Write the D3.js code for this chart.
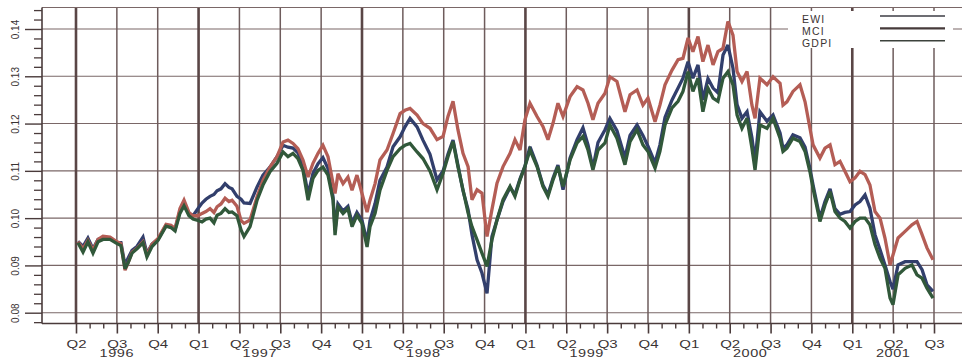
<!DOCTYPE html>
<html>
<head>
<meta charset="utf-8">
<script src="https://cdn.jsdelivr.net/npm/d3@7"></script>
<style>
  body { margin: 0; background: #ffffff; }
  svg { display: block; }
  text { font-family: "Liberation Sans", Arial, sans-serif; fill: #3a3333; }
</style>
</head>
<body>
<svg id="chart" width="964" height="359"></svg>
<script>
// Observation dates as decimal years (1996.25 = start of Q2 1996)
const dates = [
  1996.262,1996.293,1996.323,1996.354,1996.385,1996.415,1996.458,1996.501,1996.525,1996.550,
  1996.568,1996.593,1996.623,1996.660,1996.684,1996.715,1996.752,1996.801,1996.831,1996.856,
  1996.886,1996.911,1996.941,1996.966,1996.996,1997.021,1997.045,1997.070,1997.094,1997.113,
  1997.137,1997.162,1997.186,1997.205,1997.235,1997.260,1997.278,1997.315,1997.358,1997.394,
  1997.437,1997.480,1997.517,1997.547,1997.578,1997.608,1997.639,1997.670,1997.700,1997.731,
  1997.761,1997.792,1997.823,1997.835,1997.853,1997.884,1997.914,1997.939,1997.969,1998.000,
  1998.031,1998.049,1998.080,1998.110,1998.153,1998.190,1998.233,1998.263,1998.294,1998.337,
  1998.373,1998.416,1998.459,1998.496,1998.526,1998.557,1998.587,1998.618,1998.649,1998.673,
  1998.704,1998.734,1998.765,1998.795,1998.826,1998.863,1998.906,1998.936,1998.967,1998.997,
  1999.028,1999.071,1999.107,1999.138,1999.169,1999.199,1999.230,1999.273,1999.316,1999.352,
  1999.383,1999.413,1999.444,1999.487,1999.517,1999.560,1999.609,1999.640,1999.683,1999.719,
  1999.750,1999.793,1999.823,1999.854,1999.897,1999.934,1999.964,1999.995,2000.025,2000.056,
  2000.086,2000.117,2000.148,2000.178,2000.209,2000.239,2000.270,2000.295,2000.325,2000.356,
  2000.386,2000.405,2000.435,2000.478,2000.515,2000.558,2000.576,2000.600,2000.637,2000.680,
  2000.711,2000.741,2000.760,2000.802,2000.833,2000.864,2000.894,2000.925,2000.955,2000.986,
  2001.017,2001.047,2001.078,2001.108,2001.139,2001.170,2001.200,2001.231,2001.249,2001.280,
  2001.323,2001.365,2001.396,2001.427,2001.457,2001.494
];

const ewi = [
  .0951,.0940,.0958,.0935,.0955,.0958,.0957,.0948,.0948,.0900,
  .0915,.0932,.0940,.0960,.0925,.0945,.0955,.0985,.0982,.0976,
  .1015,.1030,.1010,.1005,.1020,.1032,.1040,.1046,.1050,.1058,
  .1062,.1073,.1065,.1062,.1046,.1040,.1032,.1031,.1066,.1091,
  .1108,.1130,.1154,.1150,.1148,.1138,.1110,.1050,.1095,.1115,
  .1128,.1105,.1045,.0975,.1030,.1015,.1025,.0990,.1012,.0995,
  .0950,.0995,.1031,.1080,.1108,.1151,.1172,.1193,.1211,.1193,
  .1165,.1135,.1081,.1100,.1135,.1165,.1112,.1058,.1018,.0965,
  .0912,.0884,.0841,.0961,.0996,.1035,.1065,.1050,.1083,.1110,
  .1151,.1112,.1070,.1050,.1085,.1112,.1060,.1127,.1166,.1191,
  .1155,.1106,.1160,.1187,.1211,.1185,.1128,.1175,.1197,.1175,
  .1152,.1117,.1155,.1213,.1250,.1275,.1296,.1331,.1296,.1324,
  .1250,.1295,.1275,.1265,.1345,.1366,.1317,.1240,.1211,.1225,
  .1170,.1120,.1225,.1205,.1218,.1180,.1148,.1155,.1176,.1170,
  .1150,.1105,.1070,.1000,.1035,.1062,.1020,.1008,.1012,.1014,
  .1028,.1035,.1049,.1021,.0965,.0933,.0901,.0866,.0850,.0901,
  .0908,.0908,.0908,.0891,.0859,.0845
];

const mci = [
  .0950,.0935,.0953,.0932,.0955,.0962,.0960,.0950,.0946,.0890,
  .0905,.0928,.0936,.0950,.0922,.0945,.0957,.0987,.0985,.0978,
  .1020,.1038,.1012,.1005,.1005,.1010,.1014,.1020,.1012,.1024,
  .1030,.1042,.1035,.1038,.1025,.0995,.0989,.0996,.1045,.1080,
  .1108,.1130,.1161,.1165,.1158,.1147,.1123,.1087,.1116,.1137,
  .1154,.1130,.1073,.1052,.1094,.1073,.1087,.1059,.1091,.1052,
  .1013,.1038,.1073,.1123,.1144,.1179,.1221,.1228,.1232,.1218,
  .1200,.1190,.1166,.1173,.1215,.1247,.1187,.1137,.1109,.1039,
  .1060,.1053,.0961,.1018,.1074,.1109,.1137,.1166,.1144,.1208,
  .1243,.1215,.1194,.1166,.1201,.1243,.1215,.1257,.1278,.1271,
  .1243,.1208,.1243,.1264,.1299,.1289,.1225,.1261,.1271,.1239,
  .1254,.1204,.1239,.1282,.1313,.1335,.1338,.1381,.1352,.1384,
  .1331,.1366,.1324,.1352,.1359,.1416,.1387,.1310,.1289,.1310,
  .1239,.1211,.1296,.1282,.1299,.1285,.1239,.1246,.1268,.1282,
  .1246,.1190,.1155,.1127,.1148,.1155,.1113,.1120,.1099,.1077,
  .1085,.1099,.1092,.1070,.1014,.1000,.0958,.0901,.0922,.0958,
  .0972,.0986,.0993,.0965,.0937,.0912
];

const gdpi = [
  .0948,.0928,.0950,.0926,.0950,.0955,.0955,.0946,.0942,.0893,
  .0905,.0926,.0935,.0948,.0918,.0940,.0953,.0983,.0980,.0973,
  .1010,.1026,.1005,.0998,.0995,.0992,.0998,.1000,.0990,.1006,
  .1010,.1020,.1012,.1013,.1005,.0975,.0961,.0982,.1038,.1070,
  .1098,.1116,.1140,.1130,.1137,.1126,.1101,.1038,.1084,.1101,
  .1108,.1091,.1038,.0964,.1024,.1010,.1020,.0982,.1006,.0989,
  .0939,.0982,.1010,.1059,.1101,.1130,.1147,.1154,.1158,.1140,
  .1126,.1100,.1060,.1095,.1130,.1162,.1109,.1060,.1011,.0982,
  .0954,.0926,.0898,.0954,.0996,.1039,.1067,.1046,.1081,.1109,
  .1144,.1109,.1067,.1046,.1081,.1109,.1067,.1123,.1159,.1173,
  .1144,.1102,.1144,.1159,.1197,.1169,.1113,.1162,.1187,.1155,
  .1141,.1106,.1141,.1197,.1233,.1247,.1268,.1310,.1268,.1296,
  .1225,.1275,.1254,.1247,.1296,.1310,.1282,.1218,.1190,.1211,
  .1148,.1102,.1197,.1190,.1211,.1169,.1141,.1148,.1169,.1162,
  .1141,.1098,.1063,.0993,.1028,.1056,.1014,.1000,.0993,.0979,
  .0993,.1000,.1000,.0986,.0944,.0915,.0894,.0831,.0817,.0880,
  .0894,.0901,.0880,.0873,.0852,.0831
];

const seriesNames = ["EWI", "MCI", "GDPI"];
const seriesColors = ["#323f6c", "#b45d55", "#31583a"];
const legendLineColors = ["#3c3c44", "#463a3a", "#3c423c"];

const yMajorTicks = [0.08, 0.09, 0.10, 0.11, 0.12, 0.13, 0.14];
const years = [1996, 1997, 1998, 1999, 2000, 2001];
const startQuarter = 1996.25, endQuarter = 2001.5;

const svg = d3.select("#chart");
const plot = { left: 42, right: 962, top: 7.5, bottom: 323.5 };

const x = d3.scaleLinear().domain([startQuarter, endQuarter]).range([76, 934]);
const y = d3.scaleLinear().domain([0.08, 0.14]).range([312.7, 29]);

const quarterTicks = d3.range(0, Math.round((endQuarter - startQuarter) * 4) + 1)
  .map(i => startQuarter + i * 0.25);
const monthTicks = d3.range(0, Math.round((endQuarter - startQuarter) * 12) + 1)
  .map(i => startQuarter + i / 12)
  .filter(t => Math.abs(t * 4 - Math.round(t * 4)) > 1e-6);
const yMinorTicks = d3.range(0, 34).map(i => 0.078 + i * 0.002)
  .filter(v => yMajorTicks.every(m => Math.abs(m - v) > 1e-6));

const gridColor = "#7a6767";
const axisColor = "#4a3b3b";

// horizontal grid
svg.append("g").selectAll("line").data(yMajorTicks).join("line")
  .attr("x1", plot.left).attr("x2", plot.right)
  .attr("y1", d => y(d)).attr("y2", d => y(d))
  .attr("stroke", gridColor).attr("stroke-width", 1.1);

// vertical grid at every quarter, heavier at the start of each year
const isQ1 = t => Math.abs(t - Math.round(t)) < 1e-6;
svg.append("g").selectAll("line").data(quarterTicks).join("line")
  .attr("x1", d => x(d)).attr("x2", d => x(d))
  .attr("y1", plot.top).attr("y2", plot.bottom)
  .attr("stroke", d => (isQ1(d) || d === startQuarter) ? "#5a4646" : "#6e5c5c")
  .attr("stroke-width", d => (isQ1(d) || d === startQuarter) ? 2.6 : 1.5);

// frame: top border, left and bottom axis lines
svg.append("line").attr("x1", plot.left).attr("x2", plot.right)
  .attr("y1", plot.top).attr("y2", plot.top)
  .attr("stroke", gridColor).attr("stroke-width", 1.2);
svg.append("line").attr("x1", plot.left).attr("x2", plot.left)
  .attr("y1", plot.top).attr("y2", plot.bottom)
  .attr("stroke", axisColor).attr("stroke-width", 1.6);
svg.append("line").attr("x1", plot.left).attr("x2", plot.right)
  .attr("y1", plot.bottom).attr("y2", plot.bottom)
  .attr("stroke", axisColor).attr("stroke-width", 1.6);

// y axis: major ticks with rotated labels, minor ticks
const yAxisG = svg.append("g").attr("transform", `translate(${plot.left},0)`)
  .call(d3.axisLeft(y).tickValues(yMajorTicks).tickSize(17).tickFormat(d3.format(".2f")))
  .call(g => g.select(".domain").remove());
yAxisG.selectAll(".tick line").attr("stroke", axisColor).attr("stroke-width", 1.4);
yAxisG.selectAll(".tick text")
  .attr("x", 0).attr("y", 0).attr("dy", null)
  .attr("text-anchor", "middle")
  .attr("transform", "translate(-23.5,0) rotate(-90)")
  .style("font-size", "10px").style("fill", "#3a3333");

svg.append("g").attr("transform", `translate(${plot.left},0)`)
  .call(d3.axisLeft(y).tickValues(yMinorTicks).tickSize(8).tickFormat(""))
  .call(g => g.select(".domain").remove())
  .selectAll(".tick line").attr("stroke", axisColor).attr("stroke-width", 1.3);

// x axis: quarter ticks with labels, month ticks, year labels
const xAxisG = svg.append("g").attr("transform", `translate(0,${plot.bottom})`)
  .call(d3.axisBottom(x).tickValues(quarterTicks).tickSize(10).tickPadding(7)
    .tickFormat(t => "Q" + (Math.round((t - Math.floor(t + 1e-6)) * 4) + 1)))
  .call(g => g.select(".domain").remove());
xAxisG.selectAll(".tick line").attr("stroke", axisColor).attr("stroke-width", 1.6);
xAxisG.selectAll(".tick text")
  .attr("transform", "scale(1.5,1)")
  .style("font-size", "10px").style("fill", "#3a3333");

svg.append("g").attr("transform", `translate(0,${plot.bottom})`)
  .call(d3.axisBottom(x).tickValues(monthTicks).tickSize(5).tickFormat(""))
  .call(g => g.select(".domain").remove())
  .selectAll(".tick line").attr("stroke", axisColor).attr("stroke-width", 1.4);

svg.append("g").selectAll("text").data(years).join("text")
  .attr("transform", yr => {
    const inYear = quarterTicks.filter(t => Math.floor(t + 1e-6) === yr);
    const cx = (x(d3.min(inYear)) + x(d3.max(inYear))) / 2;
    return `translate(${cx},357) scale(1.45,1)`;
  })
  .attr("text-anchor", "middle")
  .style("font-size", "10px").style("letter-spacing", "0.4px")
  .text(yr => yr);

// series lines
const series = [ewi, mci, gdpi].map((vals, i) => ({
  name: seriesNames[i],
  color: seriesColors[i],
  points: dates.map((t, j) => ({ t, v: vals[j] }))
}));

const line = d3.line().x(d => x(d.t)).y(d => y(d.v));
svg.append("g").selectAll("path").data(series).join("path")
  .attr("d", d => line(d.points))
  .attr("fill", "none")
  .attr("stroke", d => d.color)
  .attr("stroke-width", 3.3)
  .attr("stroke-linejoin", "miter")
  .attr("stroke-miterlimit", 3);

// legend
const legend = svg.append("g");
legend.append("rect")
  .attr("x", 788).attr("y", 11).attr("width", 165).attr("height", 37)
  .attr("fill", "#ffffff");
const legendRows = legend.selectAll("g.row").data(seriesNames).join("g").attr("class", "row");
legendRows.append("text")
  .attr("x", 802).attr("y", (d, i) => 22.5 + i * 12.1)
  .style("font-size", "10.5px").style("letter-spacing", "1.2px")
  .text(d => d);
legendRows.append("line")
  .attr("x1", 880).attr("x2", 945)
  .attr("y1", (d, i) => 16 + i * 12.4).attr("y2", (d, i) => 16 + i * 12.4)
  .attr("stroke", (d, i) => legendLineColors[i])
  .attr("stroke-width", (d, i) => i === 1 ? 2.2 : 1.6);
</script>
</body>
</html>
